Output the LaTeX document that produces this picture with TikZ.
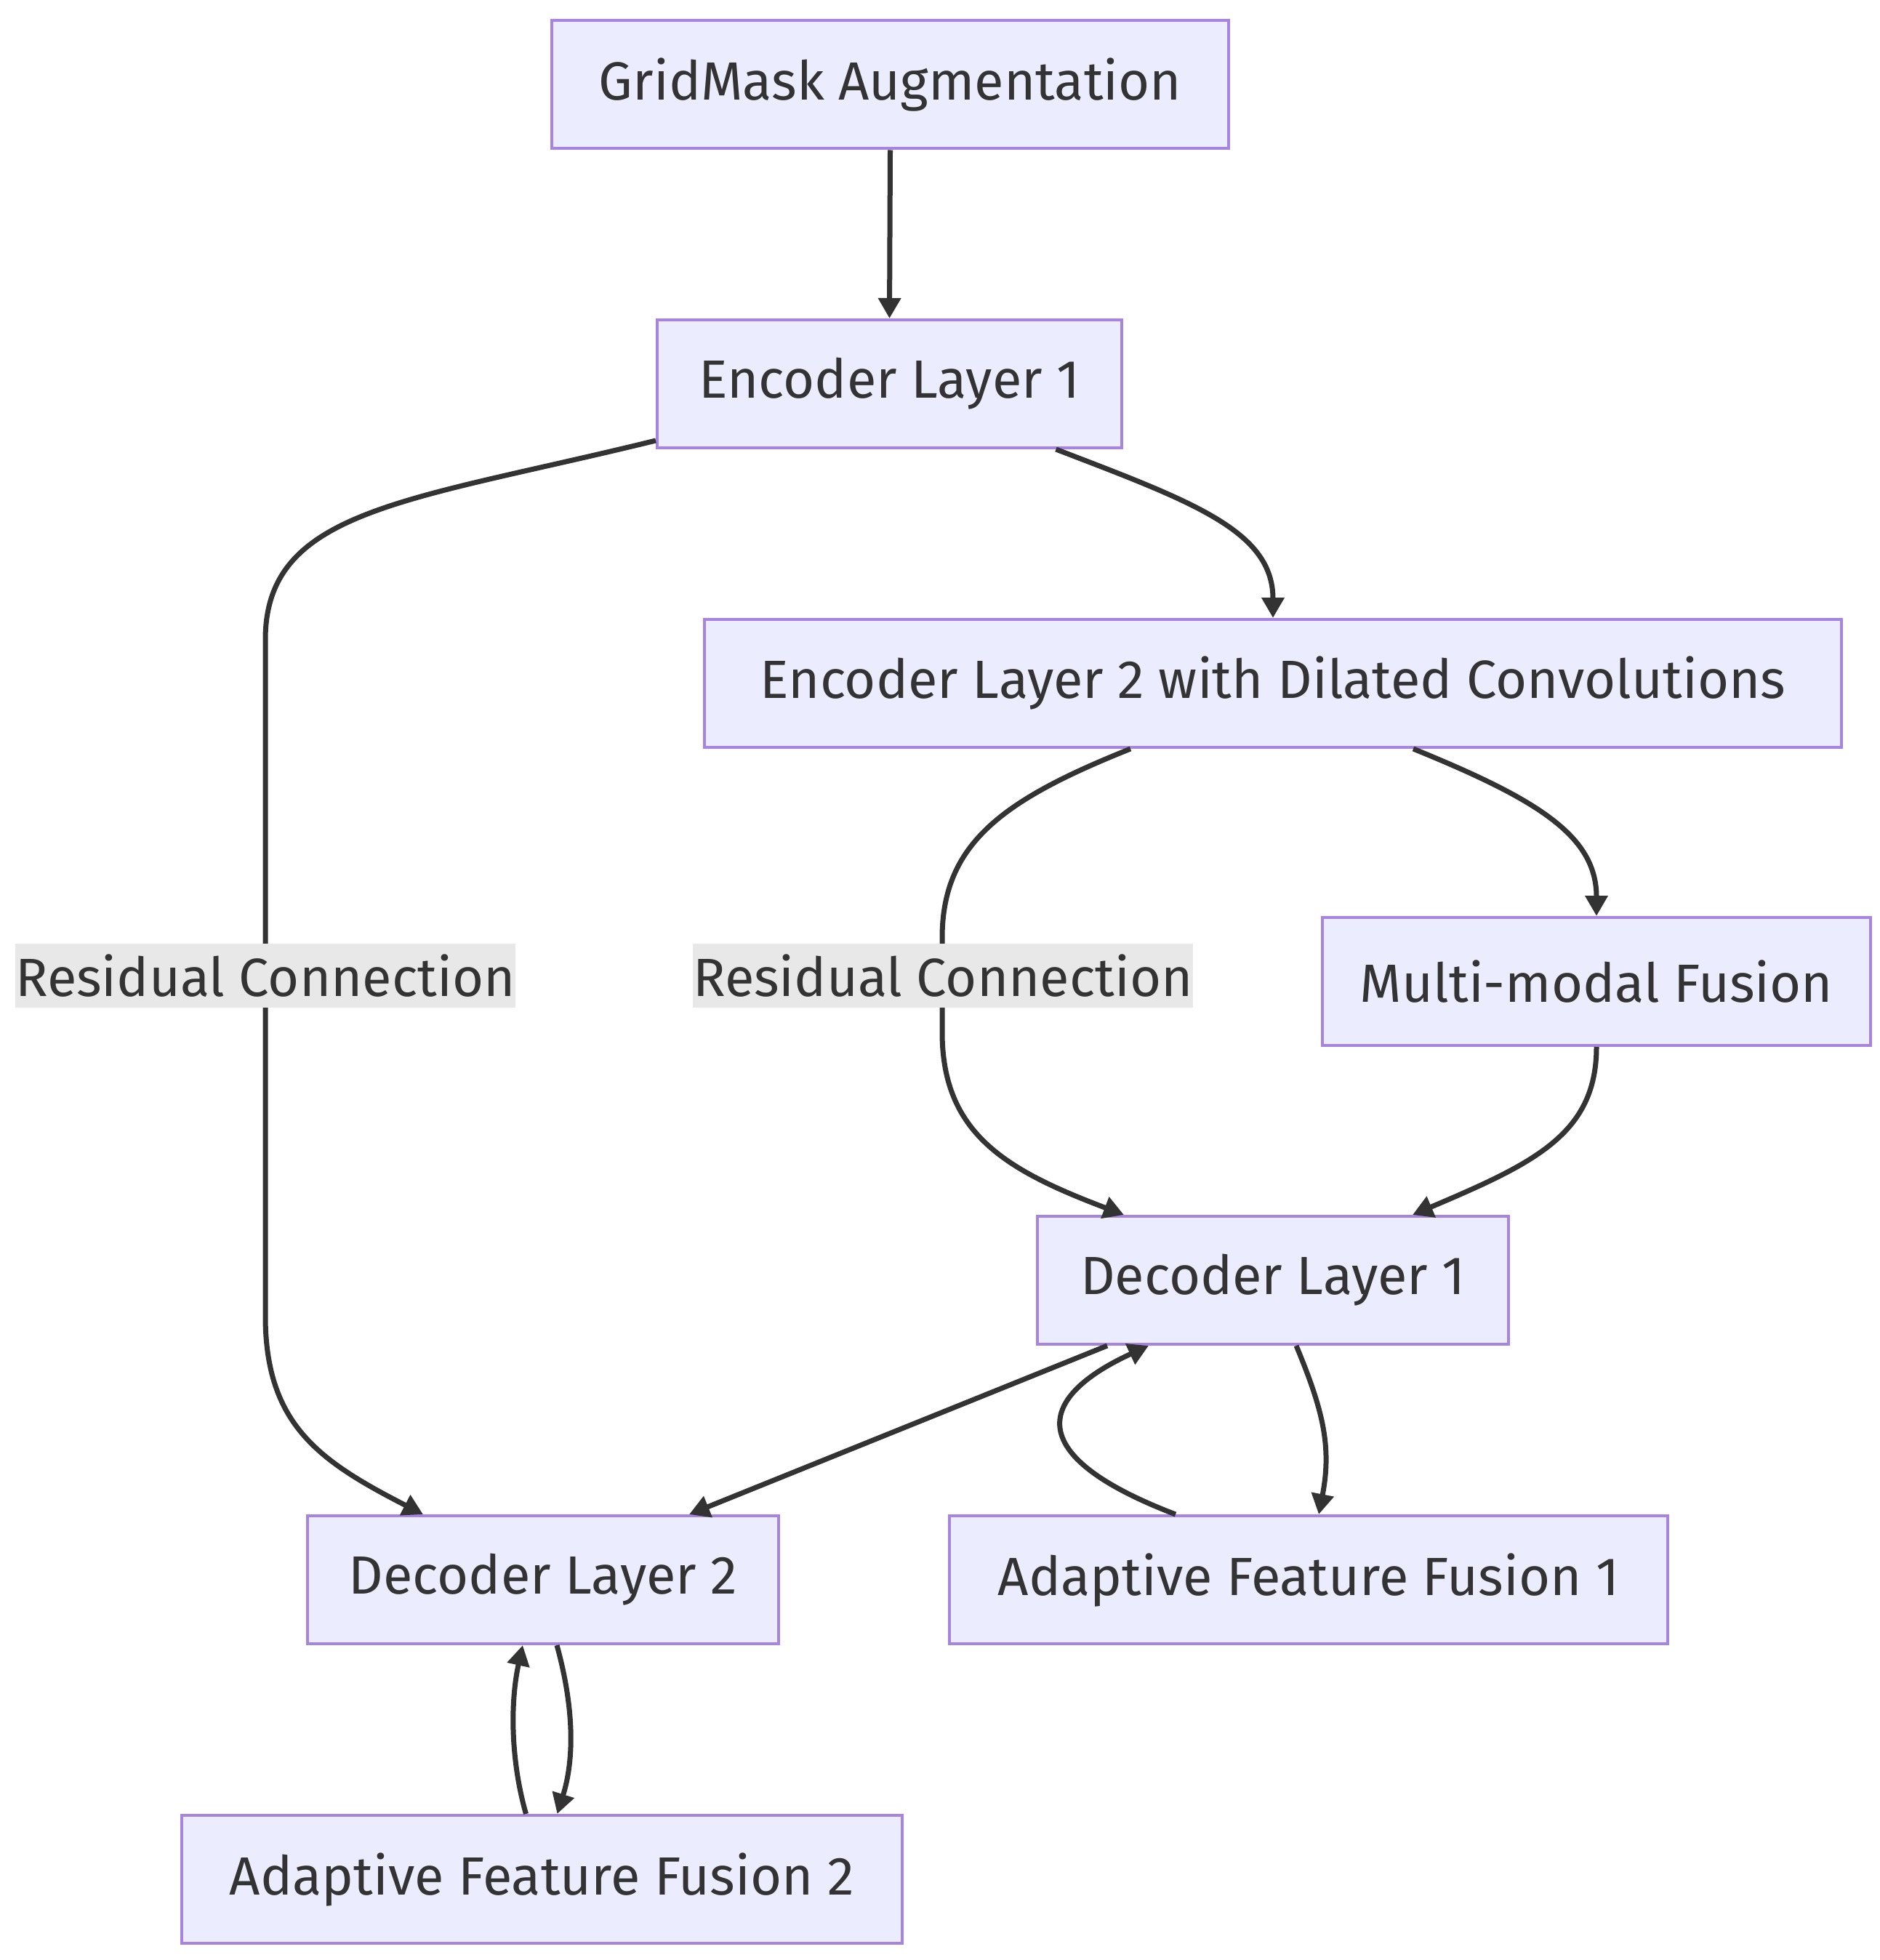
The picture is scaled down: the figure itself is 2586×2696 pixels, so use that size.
\documentclass[tikz,border=0pt]{standalone}
\usepackage{fontspec}
\setmainfont{Fira Sans}
\usetikzlibrary{arrows.meta,calc}
\definecolor{boxfill}{HTML}{ECECFF}
\definecolor{boxline}{HTML}{A783E2}
\definecolor{edgecol}{HTML}{333333}
\definecolor{labfill}{HTML}{E8E8E8}
\begin{document}
\begin{tikzpicture}[x=0.25pt,y=-0.25pt,
  box/.style={draw=boxline,fill=boxfill,line width=1pt,inner sep=0pt,
    minimum height=44pt,font=\fontsize{18.5}{22}\selectfont,text=edgecol},
  elabel/.style={fill=labfill,inner sep=0pt,minimum height=22pt,
    font=\fontsize{18.5}{22}\selectfont,text=edgecol},
  conn/.style={draw=edgecol,line width=1.75pt,
    -{Triangle[length=7pt,width=7.5pt]}}]
\useasboundingbox (0,0) rectangle (2586,2696);
\fill[white] (0,0) rectangle (2586,2696);
% nodes
\node[box,minimum width=232.75pt] (grid) at (1224.5,116.5) {GridMask Augmentation};
\node[box,minimum width=159.75pt] (enc1) at (1223.5,528) {Encoder Layer 1};
\node[box,minimum width=391pt] (enc2) at (1751,940) {Encoder Layer 2 with Dilated Convolutions};
\node[box,minimum width=188.5pt] (mm) at (2196,1350) {Multi-modal Fusion};
\node[box,minimum width=162pt] (dec1) at (1751,1761) {Decoder Layer 1};
\node[box,minimum width=162pt] (dec2) at (747,2173) {Decoder Layer 2};
\node[box,minimum width=247pt] (aff1) at (1800,2173) {Adaptive Feature Fusion 1};
\node[box,minimum width=247.75pt] (aff2) at (745.5,2585) {Adaptive Feature Fusion 2};
% connectors
\draw[conn] (grid.south) -- (enc1.north);
\draw[conn] ($(enc1.south west)+(0,-12)$) .. controls (560,690) and (365,700) .. (365,880)
  -- (365,1810) .. controls (365,1960) and (440,2010) .. ($(dec2.north)+(-165,0)$);
\draw[conn] ($(enc1.south)+(229,0)$) .. controls (1640,690) and (1751,730) .. (enc2.north);
\draw[conn] ($(enc2.south)+(-196,0)$) .. controls (1380,1100) and (1296,1160) .. (1296,1290)
  -- (1296,1420) .. controls (1296,1560) and (1385,1610) .. ($(dec1.north)+(-205,0)$);
\draw[conn] ($(enc2.south)+(193,0)$) .. controls (2116,1100) and (2196,1150) .. (mm.north);
\draw[conn] (mm.south) .. controls (2196,1560) and (2110,1600) .. ($(dec1.north)+(192,0)$);
\draw[conn] ($(dec1.south)+(-228,0)$) -- ($(dec2.north)+(201,0)$);
\draw[conn] ($(dec1.south)+(32,0)$) .. controls (1820,1940) and (1832,1990) .. ($(aff1.north)+(14,0)$);
\draw[conn] ($(aff1.north)+(-183,0)$) .. controls (1400,2000) and (1430,1920) .. ($(dec1.south)+(-171,0)$);
\draw[conn] ($(dec2.south)+(19,0)$) .. controls (790,2350) and (790,2420) .. ($(aff2.north)+(21,0)$);
\draw[conn] ($(aff2.north)+(-22,0)$) .. controls (702,2420) and (702,2340) .. ($(dec2.south)+(-28,0)$);
% edge labels
\node[elabel,minimum width=171.75pt] (lab1) at (365,1342) {Residual Connection};
\node[elabel,minimum width=172pt] (lab2) at (1297,1342) {Residual Connection};
\end{tikzpicture}
\end{document}
